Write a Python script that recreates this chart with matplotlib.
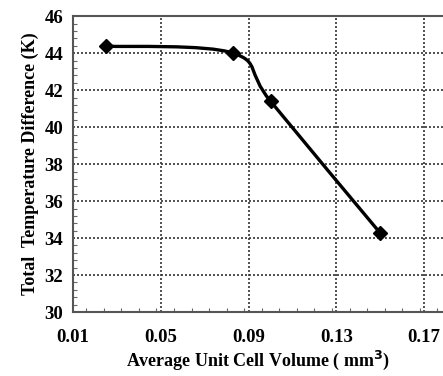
import numpy as np
import matplotlib
matplotlib.use('Agg')
import matplotlib.pyplot as plt
from matplotlib.path import Path
from matplotlib.patches import PathPatch
from matplotlib.ticker import MultipleLocator

# data
volume = [0.025, 0.083, 0.100, 0.150]
temp_diff = [44.38, 44.0, 41.4, 34.27]

x_ticks = [0.01, 0.05, 0.09, 0.13, 0.17]
x_labels = ['0.01', '0.05', '0.09', '0.13', '0.17']
y_ticks = [30, 32, 34, 36, 38, 40, 42, 44, 46]

plt.rcParams['font.family'] = ['Liberation Serif', 'DejaVu Serif']
plt.rcParams['font.weight'] = 'bold'

fig = plt.figure(figsize=(4.43, 3.76), dpi=100)
ax = fig.add_axes([0.165, 0.170, 0.835, 0.787])

xmin, xmax = 0.01, 0.1786
ymin, ymax = 30, 46
ax.set_xlim(xmin, xmax)
ax.set_ylim(ymin, ymax)

# smoothed line (excel style bezier), computed in axes-pixel space
w_px, h_px = 0.835 * 443, 0.787 * 376
px = (np.array(volume) - xmin) / (xmax - xmin) * w_px
py = (np.array(temp_diff) - ymin) / (ymax - ymin) * h_px
pts = np.column_stack([px, py])
n = len(pts)
verts = [pts[0]]
codes = [Path.MOVETO]
for i in range(n - 1):
    p0 = pts[i - 1] if i > 0 else pts[i]
    p1 = pts[i]
    p2 = pts[i + 1]
    p3 = pts[i + 2] if i + 2 < n else pts[i + 1]
    c1 = p1 + (p2 - p0) / 6.0
    c2 = p2 - (p3 - p1) / 6.0
    verts += [c1, c2, p2]
    codes += [Path.CURVE4] * 3
verts = np.array(verts)
vx = verts[:, 0] / w_px * (xmax - xmin) + xmin
vy = verts[:, 1] / h_px * (ymax - ymin) + ymin
path = Path(np.column_stack([vx, vy]), codes)
ax.add_patch(PathPatch(path, facecolor='none', edgecolor='black', lw=2.4, zorder=3))
ax.plot(volume, temp_diff, linestyle='none', marker='D', markersize=7,
        color='black', zorder=4)

ax.set_xticks(x_ticks)
ax.set_xticklabels(x_labels)
ax.set_yticks(y_ticks)
ax.xaxis.set_minor_locator(MultipleLocator(0.008))
ax.yaxis.set_minor_locator(MultipleLocator(0.4))
ax.tick_params(which='both', direction='in', color='#666666')
ax.tick_params(which='major', length=0, labelsize=13.5, pad=12)
ax.tick_params(axis='y', which='major', pad=7)
ax.tick_params(which='minor', length=3, width=0.8)
ax.grid(True, which='major', linestyle=(0, (1.2, 1.2)), color='#333333', lw=1.2)

for s in ['left', 'bottom', 'top']:
    ax.spines[s].set_color('#555555')
    ax.spines[s].set_linewidth(1.5)
ax.spines['right'].set_visible(False)

ax.set_xlabel('Average Unit Cell Volume ( mm$^\\mathbf{3}$)', fontsize=13,
              fontweight='bold', labelpad=2)
ax.set_ylabel('Total  Temperature Difference (K)', fontsize=13,
              fontweight='bold', labelpad=4)

fig.savefig('out.png', dpi=100)
